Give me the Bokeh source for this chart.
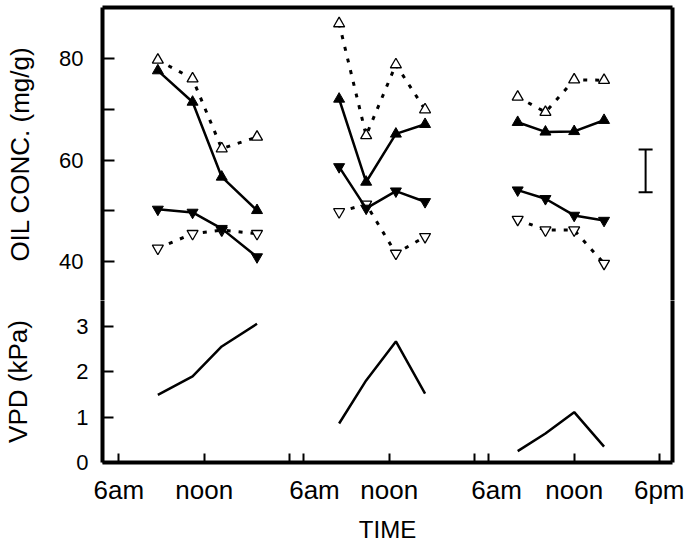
from bokeh.plotting import figure
from bokeh.layouts import column
from bokeh.models import (Range1d, LinearAxis, FixedTicker, Whisker, TeeHead,
                          ColumnDataSource)
from bokeh.embed import file_html
from bokeh.resources import INLINE

# ---------------- data ----------------
# compressed time axis (hours): each night shortened to one hour
day_offsets = [0, 13, 26]
# sampling clock times (h) for each day
times_day1 = [8.74, 11.18, 13.23, 15.71]
times_day2 = [8.48, 10.38, 12.47, 14.52]
times_day3 = [8.03, 9.98, 12.0, 14.1]

# oil concentration (mg/g)
filled_up_d1 = [77.7, 71.5, 56.7, 50.1]
filled_up_d2 = [72.1, 55.7, 65.2, 67.1]
filled_up_d3 = [67.5, 65.6, 65.7, 67.9]

open_up_d1 = [79.8, 76.1, 62.3, 64.6]
open_up_d2 = [87.0, 64.9, 78.9, 70.0]
open_up_d3 = [72.5, 69.5, 75.9, 75.8]

filled_down_d1 = [50.3, 49.7, 46.5, 40.9]
filled_down_d2 = [58.7, 50.5, 53.9, 51.8]
filled_down_d3 = [54.1, 52.4, 49.1, 48.1]

open_down_d1 = [42.6, 45.5, 46.2, 45.5]
open_down_d2 = [49.8, 51.3, 41.6, 44.9]
open_down_d3 = [48.3, 46.2, 46.2, 39.6]

# vapour pressure deficit (kPa)
vpd_d1 = [1.49, 1.90, 2.56, 3.06]
vpd_d2 = [0.86, 1.81, 2.67, 1.52]
vpd_d3 = [0.25, 0.64, 1.11, 0.35]

# error bar (LSD)
lsd_time = [43.02]
lsd_center = [57.9]
lsd_half = [4.2]

# ticks
time_ticks = [6, 12, 18, 19, 25, 31, 32, 38, 44]
time_label_pos = [6, 12, 19.75, 25, 32.55, 38, 44]
time_labels = ["6am", "noon", "6am", "noon", "6am", "noon", "6pm"]
oil_ticks = [40, 60, 80]
oil_minor = [50, 70]
vpd_ticks = [0, 1, 2, 3]

# ---------------- styling ----------------
FONT = "Liberation Sans"
AXW = 4
W = 684

times = [times_day1, times_day2, times_day3]


def xs(day):
    return [t + day_offsets[day] for t in times[day]]


x_range = Range1d(4.85, 44.91)


def style(p):
    p.background_fill_color = None
    p.border_fill_color = None
    p.outline_line_color = None
    p.xgrid.visible = False
    p.ygrid.visible = False


def frame_axis():
    return LinearAxis(ticker=FixedTicker(ticks=[]), axis_line_width=AXW,
                      axis_line_color="black",
                      major_tick_in=0, major_tick_out=0,
                      minor_tick_in=0, minor_tick_out=0,
                      major_label_text_font_size="0px",
                      major_label_standoff=0)


# ---------------- top panel ----------------
top = figure(width=W, height=300, x_range=x_range,
             y_range=Range1d(32.30, 90.17),
             output_backend="svg", toolbar_location=None,
             x_axis_location=None,
             min_border_left=98, min_border_right=12,
             min_border_top=7, min_border_bottom=0)
style(top)

oy = top.yaxis[0]
oy.ticker = FixedTicker(ticks=oil_ticks, minor_ticks=oil_minor)
oy.axis_line_width = AXW
oy.major_tick_in = 12
oy.major_tick_out = 0
oy.minor_tick_in = 12
oy.minor_tick_out = 0
oy.major_tick_line_width = 2
oy.minor_tick_line_width = 2
oy.major_label_standoff = 19
oy.major_label_text_font = FONT
oy.major_label_text_font_size = "22px"
oy.major_label_text_color = "black"
oy.axis_label = "OIL CONC. (mg/g)"
oy.axis_label_text_font = FONT
oy.axis_label_text_font_size = "26px"
oy.axis_label_text_font_style = "normal"
oy.axis_label_text_color = "black"
oy.axis_label_standoff = 21

top.add_layout(frame_axis(), "above")
top.add_layout(frame_axis(), "right")

open_series = [(open_up_d1, open_up_d2, open_up_d3, "triangle"),
               (open_down_d1, open_down_d2, open_down_d3, "inverted_triangle")]
filled_series = [(filled_up_d1, filled_up_d2, filled_up_d3, "triangle"),
                 (filled_down_d1, filled_down_d2, filled_down_d3, "inverted_triangle")]

for d1, d2, d3, mk in open_series:
    for day, vals in enumerate([d1, d2, d3]):
        top.line(xs(day), vals, line_color="black", line_width=3,
                 line_dash="4 8")
        top.scatter(xs(day), vals, marker=mk, size=11, fill_color="white",
                    line_color="black", line_width=1.3)

for d1, d2, d3, mk in filled_series:
    for day, vals in enumerate([d1, d2, d3]):
        top.line(xs(day), vals, line_color="black", line_width=2.5)
        top.scatter(xs(day), vals, marker=mk, size=11, fill_color="black",
                    line_color="black", line_width=1)

lsd_src = ColumnDataSource(dict(
    base=lsd_time,
    lower=[c - h for c, h in zip(lsd_center, lsd_half)],
    upper=[c + h for c, h in zip(lsd_center, lsd_half)]))
top.add_layout(Whisker(source=lsd_src, base="base", lower="lower",
                       upper="upper", dimension="height",
                       line_color="black", line_width=2,
                       upper_head=TeeHead(size=14, line_width=2),
                       lower_head=TeeHead(size=14, line_width=2)))

# ---------------- bottom panel ----------------
bot = figure(width=W, height=245, x_range=x_range,
             y_range=Range1d(0, 3.574),
             output_backend="svg", toolbar_location=None,
             min_border_left=98, min_border_right=12,
             min_border_top=0, min_border_bottom=83)
style(bot)

vy = bot.yaxis[0]
vy.ticker = FixedTicker(ticks=vpd_ticks)
vy.axis_line_width = AXW
vy.major_tick_in = 11
vy.major_tick_out = 0
vy.minor_tick_in = 0
vy.minor_tick_out = 0
vy.major_tick_line_width = 2
vy.major_label_standoff = 14
vy.major_label_text_font = FONT
vy.major_label_text_font_size = "22px"
vy.major_label_text_color = "black"
vy.axis_label = "VPD (kPa)"
vy.axis_label_text_font = FONT
vy.axis_label_text_font_size = "26px"
vy.axis_label_text_font_style = "normal"
vy.axis_label_text_color = "black"
vy.axis_label_standoff = 40

bx = bot.xaxis[0]
bx.ticker = FixedTicker(ticks=time_label_pos, minor_ticks=time_ticks)
bx.major_label_overrides = {p: l for p, l in zip(time_label_pos, time_labels)}
bx.axis_line_width = AXW
bx.major_tick_in = 0
bx.major_tick_out = 0
bx.minor_tick_in = 9
bx.minor_tick_out = 0
bx.minor_tick_line_width = 2
bx.major_label_standoff = 12
bx.major_label_text_font = FONT
bx.major_label_text_font_size = "26px"
bx.major_label_text_color = "black"
bx.axis_label = "TIME"
bx.axis_label_text_font = FONT
bx.axis_label_text_font_size = "24px"
bx.axis_label_text_font_style = "normal"
bx.axis_label_text_color = "black"
bx.axis_label_standoff = 8

bot.add_layout(frame_axis(), "right")

for day, vals in enumerate([vpd_d1, vpd_d2, vpd_d3]):
    bot.line(xs(day), vals, line_color="black", line_width=2.5)

layout = column(top, bot, spacing=0)
open("out.html", "w").write(file_html(layout, INLINE))
